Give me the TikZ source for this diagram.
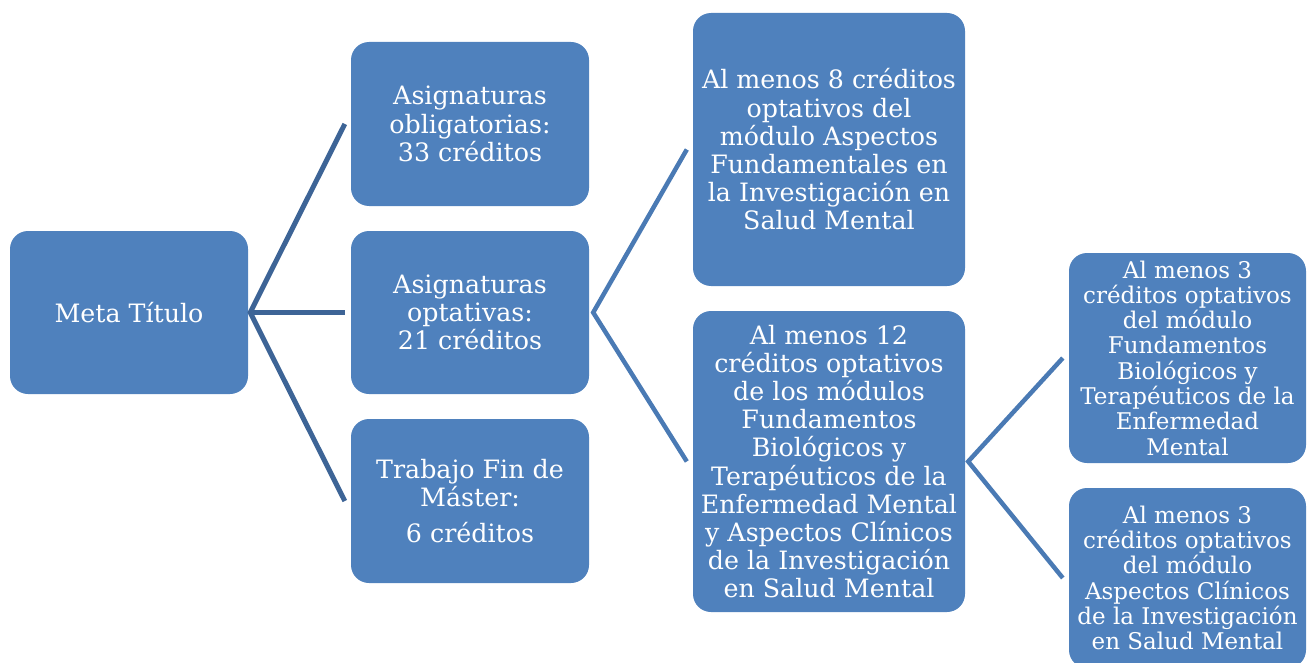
\documentclass[tikz,border=0pt]{standalone}
\usepackage{fontspec}
\setmainfont{DejaVu Serif}
\definecolor{boxblue}{RGB}{79,129,189}
\definecolor{lineA}{RGB}{61,100,150}
\definecolor{lineB}{RGB}{74,122,180}
\begin{document}
\begin{tikzpicture}[x=1pt,y=-1pt,
  box/.style={fill=boxblue, draw=none, rounded corners=18pt, text=white, align=center, inner sep=0pt, font=\fontsize{25.3}{28.2}\selectfont},
  smallbox/.style={box, font=\fontsize{23}{25.3}\selectfont},
  conA/.style={draw=lineA, line width=5pt},
  conB/.style={draw=lineB, line width=4.5pt}]
\useasboundingbox (0,0) rectangle (1308,663);
\begin{scope}
\clip (0,0) rectangle (1308,663);
\node[box, minimum width=238pt, minimum height=163pt] (meta) at (129,312.5) {Meta Título};
\node[box, minimum width=238pt, minimum height=164pt] (A) at (470,124) {Asignaturas\\obligatorias:\\33 créditos};
\node[box, minimum width=238pt, minimum height=163pt] (B) at (470,312.5) {Asignaturas\\optativas:\\21 créditos};
\node[box, minimum width=238pt, minimum height=164pt] (C) at (470,501) {Trabajo Fin de\\Máster:\\[8pt]6 créditos};
\node[box, minimum width=272pt, minimum height=273pt] (D) at (829,149.5) {Al menos 8 créditos\\optativos del\\módulo Aspectos\\Fundamentales en\\la Investigación en\\Salud Mental};
\node[box, minimum width=272pt, minimum height=301pt] (E) at (829,461.5) {Al menos 12\\créditos optativos\\de los módulos\\Fundamentos\\Biológicos y\\Terapéuticos de la\\Enfermedad Mental\\y Aspectos Clínicos\\de la Investigación\\en Salud Mental};
\node[smallbox, minimum width=237pt, minimum height=210pt] (F) at (1187.5,358) {Al menos 3\\créditos optativos\\del módulo\\Fundamentos\\Biológicos y\\Terapéuticos de la\\Enfermedad\\Mental};
\node[smallbox, minimum width=237pt, minimum height=180pt] (G) at (1187.5,578) {Al menos 3\\créditos optativos\\del módulo\\Aspectos Clínicos\\de la Investigación\\en Salud Mental};
\end{scope}
\draw[conA] ([xshift=-6pt]A.west) -- ([xshift=2pt]meta.east) -- ([xshift=-6pt]C.west);
\draw[conA] ([xshift=2pt]meta.east) -- ([xshift=-6pt]B.west);
\draw[conB] ([xshift=-6pt]D.west) -- ([xshift=4pt]B.east) -- ([xshift=-6pt]E.west);
\draw[conB] ([xshift=-6pt]F.west) -- ([xshift=3pt]E.east) -- ([xshift=-6pt]G.west);
\end{tikzpicture}
\end{document}
